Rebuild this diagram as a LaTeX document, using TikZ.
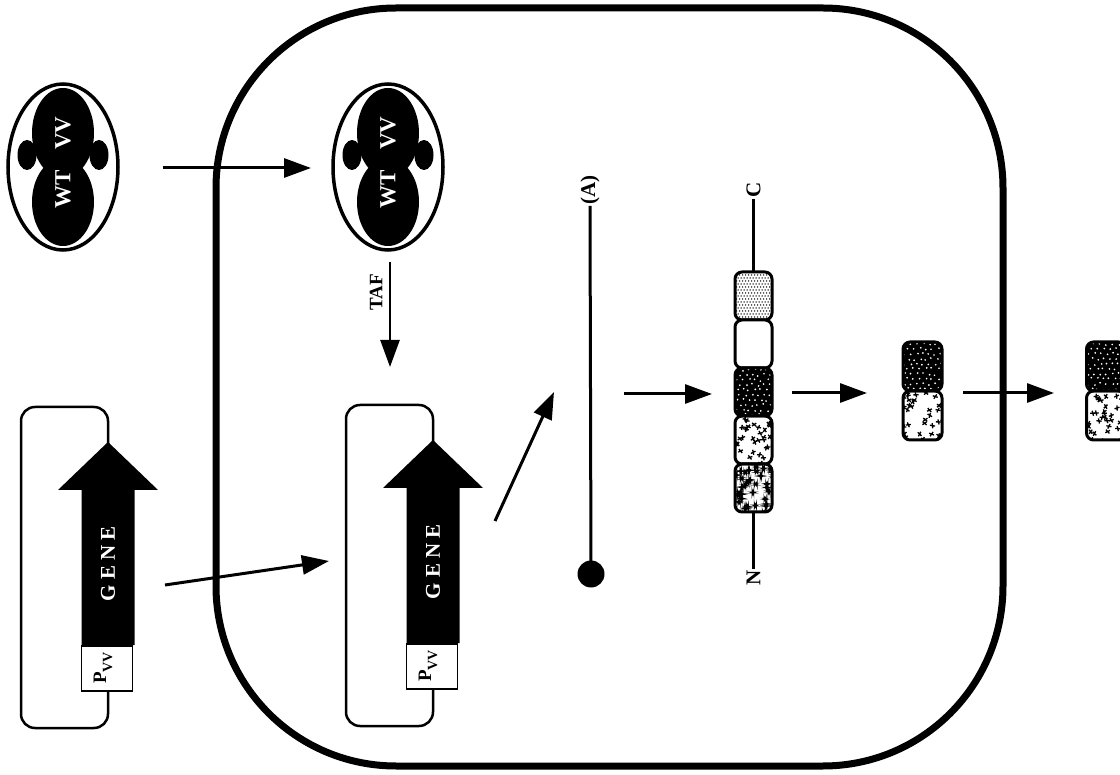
\documentclass[tikz,border=0pt]{standalone}
\usepackage{fontspec}
\setmainfont{Liberation Serif}
\usetikzlibrary{arrows.meta,calc,shapes.geometric}

\newcommand\labfont{\bfseries\fontsize{21}{21}\selectfont}
\newcommand\wtfont{\bfseries\fontsize{23}{23}\selectfont}
\newcommand\genefont{\bfseries\fontsize{21}{21}\selectfont}

% textures for the protein domains, drawn inside each block outline
\newcommand\ppnw{path picture bounding box.north west}
\newcommand\texstipple{%
  \foreach \j in {0,...,17}{\foreach \i in {0,...,13}{
    \fill ($(\ppnw)+({\i*3+mod(\j,2)*1.5},{\j*3})$) circle (0.75);}}}
\newcommand\texdark[1]{%
  \fill[black] (path picture bounding box.south west) rectangle (path picture bounding box.north east);
  \pgfmathsetseed{#1}
  \foreach \j in {0,...,10}{\foreach \i in {0,...,7}{
    \pgfmathsetmacro\dx{rand*1.3}\pgfmathsetmacro\dy{rand*1.3}
    \fill[white] ($(\ppnw)+({\i*6+mod(\j,2)*3+2+\dx},{\j*5+2+\dy})$) circle (0.95);}}}
\newcommand\texcross[1]{%
  \pgfmathsetseed{#1}
  \foreach \k in {1,...,40}{
    \pgfmathsetmacro\rx{rnd*42}\pgfmathsetmacro\ry{rnd*54}\pgfmathsetmacro\ra{rnd*180}
    \coordinate (tc) at ($(\ppnw)+(\rx,\ry)$);
    \draw[line width=1.3pt] (tc) +(\ra:2.6) -- +(\ra+180:2.6)
      (tc) +(\ra+75:2.6) -- +(\ra+255:2.6);}}
\newcommand\texblot[1]{%
  \pgfmathsetseed{#1}
  \foreach \k in {1,...,42}{
    \pgfmathsetmacro\rx{rnd*42}\pgfmathsetmacro\ry{rnd*54}\pgfmathsetmacro\rs{1.2+rnd*1.3}
    \fill ($(\ppnw)+(\rx,\ry)$) rectangle ++({\rs*1.5},\rs);}}

\tikzset{
  flow/.style={line width=3pt, -{Triangle[length=27pt,width=19pt]}},
  cellwall/.style={draw, line width=7pt, rounded corners=180pt, inner sep=0pt},
  pblock/.style={draw, line width=3pt, rounded corners=7pt, minimum width=37pt,
    minimum height=48pt, inner sep=0pt, outer sep=0pt},
  dblock/.style={pblock, minimum width=39pt, minimum height=49pt},
  stipple/.style={path picture={\texstipple}},
  darkdots/.style={path picture={\texdark{#1}}},
  crosses/.style={path picture={\texcross{#1}}},
  blots/.style={path picture={\texblot{#1}}},
  vlabel/.style={rotate=90, font=\labfont, inner sep=1pt},
  % transcription-activating complex in its capsule
  wtvv/.pic={
    \fill (0,-34) ellipse [x radius=31, y radius=45];
    \fill (0,35) ellipse [x radius=31, y radius=44];
    \fill (-36,-12) ellipse [x radius=9.5, y radius=15];
    \fill (36,-12) ellipse [x radius=9.5, y radius=15];
    \node[draw, ellipse, line width=3.5pt, minimum width=110pt, minimum height=166pt,
      inner sep=0pt] (-ring) at (0,0) {};
    \node[rotate=90, text=white, font=\wtfont] (-vv) at (0,-34) {VV};
    \node[rotate=90, text=white, font=\wtfont] (-wt) at (0,22) {WT};
  },
  % plasmid carrying the gene and its promoter
  plasmid/.pic={
    \draw[line width=2.5pt, rounded corners=14pt] (-87,0) rectangle (0,321);
    \fill (0,35) -- (50,83) -- (26.5,83) -- (26.5,238) -- (-26.5,238) -- (-26.5,83)
      -- (-50,83) -- cycle;
    \node[draw, fill=white, line width=1.6pt, minimum width=51pt, minimum height=45pt,
      inner sep=0pt, anchor=north] (-prom) at (-1,238) {};
    \node[rotate=90, text=white, font=\genefont] (-gene) at (0,157)
      {G\kern5pt E\kern5pt N\kern5pt E};
    \node[rotate=90, font=\bfseries\fontsize{19}{19}\selectfont, inner sep=0pt] (-pv)
      at (-5,261) {P\raisebox{-6pt}{\fontsize{14}{14}\selectfont VV}};
  }
}

\begin{document}
\begin{tikzpicture}[x=1pt, y=-1pt]
\useasboundingbox (0,0) rectangle (1120,775);

% cell wall
\node[cellwall, minimum width=787pt, minimum height=758pt] (cell) at (609.5,387) {};

% complex outside and inside the cell
\pic (wtA) at (63,167) {wtvv};
\pic (wtB) at (388,167) {wtvv};

% plasmids outside and inside the cell
\pic (plA) at (108,407) {plasmid};
\pic (plB) at (433,405) {plasmid};

% transcript: poly(A) tail and cap
\node[vlabel] (alab) at (590,190) {(A)};
\node[circle, fill, minimum size=27pt, inner sep=0pt] (cap) at (591,574) {};
\draw[line width=3pt] (alab.west) -- (cap.center);

% full-length protein, C to N
\node[vlabel] (clab) at (753.5,190) {C};
\node[pblock, stipple] (b1) at (753.5,296) {};
\node[pblock, fill=white] (b2) at (753.5,344) {};
\node[pblock, darkdots=3] (b3) at (753.5,392) {};
\node[pblock, crosses=5] (b4) at (753.5,440) {};
\node[pblock, blots=7] (b5) at (753.5,488) {};
\node[vlabel] (nlab) at (753.5,578) {N};
\draw[line width=3pt] (clab.west) -- (b1.north);
\draw[line width=3pt] (b5.south) -- (nlab.east);

% processed two-domain product, inside and outside
\node[dblock, darkdots=13] (d1) at (922.5,366.5) {};
\node[dblock, crosses=17] (d2) at (922.5,415.5) {};
\node[dblock, darkdots=23] (e1) at (1106,366.5) {};
\node[dblock, crosses=29] (e2) at (1106,415.5) {};

% arrows
\coordinate (a1s) at (163,168);  \coordinate (a1e) at (311,168);
\coordinate (tafs) at (390,262); \coordinate (tafe) at (390,367);
\coordinate (a3s) at (165,585);  \coordinate (a3e) at (329,561);
\coordinate (a4s) at (495,521);  \coordinate (a4e) at (554,392);
\coordinate (a5s) at (624,394);  \coordinate (a5e) at (712,394);
\coordinate (a6s) at (792,393);  \coordinate (a6e) at (867,393);
\coordinate (a7s) at (963,393);  \coordinate (a7e) at (1054,393);
\draw[flow] (a1s) -- (a1e);
\draw[flow, line width=2.5pt] (tafs) -- (tafe);
\node[vlabel, font=\bfseries\fontsize{19}{19}\selectfont] (taf) at (376,292) {TAF};
\draw[flow] (a3s) -- (a3e);
\draw[flow] (a4s) -- (a4e);
\draw[flow] (a5s) -- (a5e);
\draw[flow] (a6s) -- (a6e);
\draw[flow] (a7s) -- (a7e);
\end{tikzpicture}
\end{document}
